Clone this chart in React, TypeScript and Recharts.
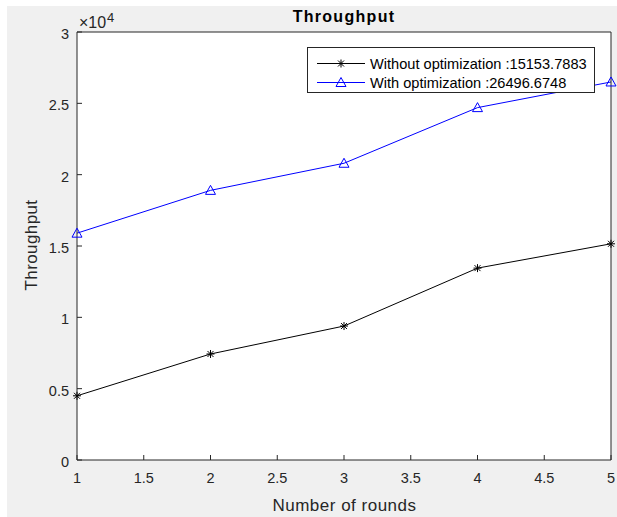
import React from 'react';
import { LineChart, Line, XAxis, YAxis, CartesianGrid, Legend } from 'recharts';

const rounds = [1, 2, 3, 4, 5];
const withoutOptimization = [4500, 7430, 9390, 13450, 15153.7883];
const withOptimization = [15900, 18900, 20800, 24700, 26496.6748];
const seriesNames = ['Without optimization :15153.7883', 'With optimization :26496.6748'];
const xTicks = [1, 1.5, 2, 2.5, 3, 3.5, 4, 4.5, 5];
const yTicks = [0, 5000, 10000, 15000, 20000, 25000, 30000];

const data = rounds.map((r, i) => ({
  round: r,
  without: withoutOptimization[i],
  with: withOptimization[i],
}));

const FONT = '"Liberation Sans", Arial, Helvetica, sans-serif';
const AXIS = '#262626';
const BLUE = '#0000ff';

const Asterisk = ({ cx, cy, color }: { cx: number; cy: number; color: string }) => (
  <g stroke={color} strokeWidth={1}>
    <line x1={cx - 4} y1={cy} x2={cx + 4} y2={cy} />
    <line x1={cx} y1={cy - 4} x2={cx} y2={cy + 4} />
    <line x1={cx - 3} y1={cy - 3} x2={cx + 3} y2={cy + 3} />
    <line x1={cx - 3} y1={cy + 3} x2={cx + 3} y2={cy - 3} />
  </g>
);

const Triangle = ({ cx, cy, color }: { cx: number; cy: number; color: string }) => (
  <polygon
    points={`${cx},${cy - 5} ${cx - 5},${cy + 4} ${cx + 5},${cy + 4}`}
    fill="none"
    stroke={color}
    strokeWidth={1}
  />
);

const renderStar = (props: any) => (
  <Asterisk key={`s-${props.index}`} cx={props.cx} cy={props.cy} color="#000" />
);
const renderTri = (props: any) => (
  <Triangle key={`t-${props.index}`} cx={props.cx} cy={props.cy} color={BLUE} />
);

const legendText = { fontSize: 14.6, fontFamily: FONT, fill: '#000' };

const renderLegend = () => (
  <svg width={288} height={46} style={{ display: 'block' }}>
    <rect x={0.5} y={0.5} width={287} height={45} fill="#fff" stroke={AXIS} />
    <line x1={10} y1={16.5} x2={58} y2={16.5} stroke="#000" />
    <Asterisk cx={34} cy={16.5} color="#000" />
    <text x={63} y={21.5} style={legendText}>{seriesNames[0]}</text>
    <line x1={10} y1={35.5} x2={58} y2={35.5} stroke={BLUE} />
    <Triangle cx={34} cy={35.5} color={BLUE} />
    <text x={63} y={40.5} style={legendText}>{seriesNames[1]}</text>
  </svg>
);

const tickStyle = { fill: AXIS, style: { fontSize: 14.5, fontFamily: FONT } };

export default function App() {
  return (
    <div style={{ position: 'absolute', left: 0, top: 0, width: 617, height: 517, background: '#fff' }}>
      <div style={{ position: 'absolute', left: 7, top: 6, right: 0, bottom: 0, background: '#f0f0f0' }} />
      <div style={{ position: 'absolute', left: 0, top: 0 }}>
        <LineChart width={617} height={517} data={data} margin={{ top: 30, right: 4, bottom: 27, left: 37 }}>
          <CartesianGrid fill="#fff" horizontal={false} vertical={false} stroke="none" />
          <XAxis
            dataKey="round"
            type="number"
            domain={[1, 5]}
            ticks={xTicks}
            interval={0}
            height={30}
            tickSize={-5}
            tickMargin={18}
            tick={tickStyle}
            axisLine={{ stroke: AXIS }}
            tickLine={{ stroke: AXIS }}
          />
          <XAxis
            xAxisId="top"
            orientation="top"
            dataKey="round"
            type="number"
            domain={[1, 5]}
            ticks={xTicks}
            interval={0}
            height={2}
            tickSize={-5}
            tick={false}
            axisLine={{ stroke: AXIS }}
            tickLine={{ stroke: AXIS }}
          />
          <YAxis
            type="number"
            domain={[0, 30000]}
            ticks={yTicks}
            interval={0}
            width={40}
            tickSize={-5}
            tickMargin={13}
            tick={{ ...tickStyle, dy: 2 }}
            tickFormatter={(v: number) => String(v / 10000)}
            axisLine={{ stroke: AXIS }}
            tickLine={{ stroke: AXIS }}
          />
          <YAxis
            yAxisId="right"
            orientation="right"
            type="number"
            domain={[0, 30000]}
            ticks={yTicks}
            interval={0}
            width={2}
            tickSize={-5}
            tick={false}
            axisLine={{ stroke: AXIS }}
            tickLine={{ stroke: AXIS }}
          />
          <Legend
            layout="vertical"
            align="center"
            verticalAlign="middle"
            content={renderLegend}
            wrapperStyle={{ left: 307, top: 47, width: 288, height: 46 }}
          />
          <Line
            type="linear"
            dataKey="without"
            name={seriesNames[0]}
            stroke="#000"
            strokeWidth={1}
            dot={renderStar}
            activeDot={false}
            isAnimationActive={false}
          />
          <Line
            type="linear"
            dataKey="with"
            name={seriesNames[1]}
            stroke={BLUE}
            strokeWidth={1}
            dot={renderTri}
            activeDot={false}
            isAnimationActive={false}
          />
        </LineChart>
      </div>
      <svg width={617} height={517} style={{ position: 'absolute', left: 0, top: 0, pointerEvents: 'none' }}>
        <text x={344} y={22} textAnchor="middle" fill="#000" style={{ fontSize: 16, fontWeight: 'bold', letterSpacing: 1.3, fontFamily: FONT }}>
          Throughput
        </text>
        <text x={79} y={28} fill={AXIS} style={{ fontSize: 16, fontFamily: FONT }}>
          ×10
        </text>
        <text x={107} y={22} fill={AXIS} style={{ fontSize: 13, fontFamily: FONT }}>
          4
        </text>
        <text x={344.5} y={511} textAnchor="middle" fill={AXIS} style={{ fontSize: 17, letterSpacing: 0.5, fontFamily: FONT }}>
          Number of rounds
        </text>
        <text
          x={37}
          y={245}
          textAnchor="middle"
          fill={AXIS}
          style={{ fontSize: 17, letterSpacing: 0.4, fontFamily: FONT }}
          transform="rotate(-90 37 245)"
        >
          Throughput
        </text>
      </svg>
    </div>
  );
}
